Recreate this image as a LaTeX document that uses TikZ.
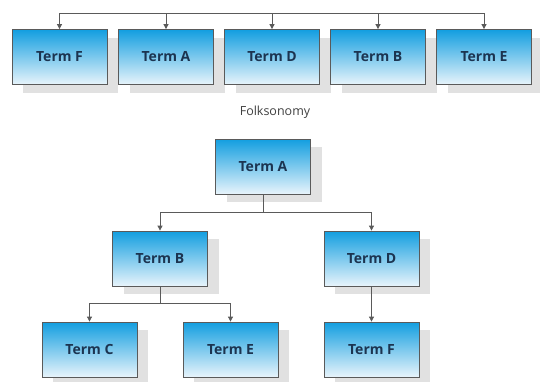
\documentclass[tikz,border=0pt]{standalone}
\usepackage{fontspec}
\setmainfont{Open Sans}
\usetikzlibrary{arrows.meta,shadows}
\definecolor{boxtop}{RGB}{18,158,224}
\definecolor{boxbot}{RGB}{232,244,251}
\definecolor{txt}{RGB}{28,52,80}
\definecolor{edge}{RGB}{90,90,90}
\definecolor{shad}{RGB}{225,225,225}
\tikzset{
  term/.style={draw=edge, line width=0.8pt, top color=boxtop, bottom color=boxbot,
    minimum width=95pt, minimum height=55pt, inner sep=0pt,
    font=\fontsize{14}{16}\selectfont\bfseries, text=txt,
    general shadow={fill=shad, draw=none, shadow xshift=11pt, shadow yshift=-8pt}},
  conn/.style={draw=edge, line width=0.8pt},
  arr/.style={conn, -{Triangle[length=5pt,width=5pt]}},
}
\begin{document}
\begin{tikzpicture}[x=1pt,y=-1pt]
\useasboundingbox (0,0) rectangle (540,381);
% top row (folksonomy)
\node[term] (F1) at (59.5,57) {Term F};
\node[term] (A1) at (166,57) {Term A};
\node[term] (D1) at (272,57) {Term D};
\node[term] (B1) at (378,57) {Term B};
\node[term] (E1) at (484,57) {Term E};
\coordinate (bar) at (272,13);
\draw[arr] (bar) -| (F1.north);
\draw[arr] (bar) -| (A1.north);
\draw[arr] (bar) -- (D1.north);
\draw[arr] (bar) -| (B1.north);
\draw[arr] (bar) -| (E1.north);
\node[font=\fontsize{12.5}{14}\selectfont, text=black!75] (lbl) at (275,112) {Folksonomy};
% hierarchy
\node[term] (A2) at (263,166.5) {Term A};
\node[term] (B2) at (160,258.5) {Term B};
\node[term] (D2) at (371.5,258.5) {Term D};
\node[term] (C2) at (89.5,349.5) {Term C};
\node[term] (E2) at (230.5,349.5) {Term E};
\node[term] (F2) at (371.5,349.5) {Term F};
\coordinate (jA) at (263,212);
\draw[conn] (A2.south) -- (jA);
\draw[arr] (jA) -| (B2.north);
\draw[arr] (jA) -| (D2.north);
\coordinate (jB) at (160,303);
\draw[conn] (B2.south) -- (jB);
\draw[arr] (jB) -| (C2.north);
\draw[arr] (jB) -| (E2.north);
\draw[arr] (D2.south) -- (F2.north);
\end{tikzpicture}
\end{document}
